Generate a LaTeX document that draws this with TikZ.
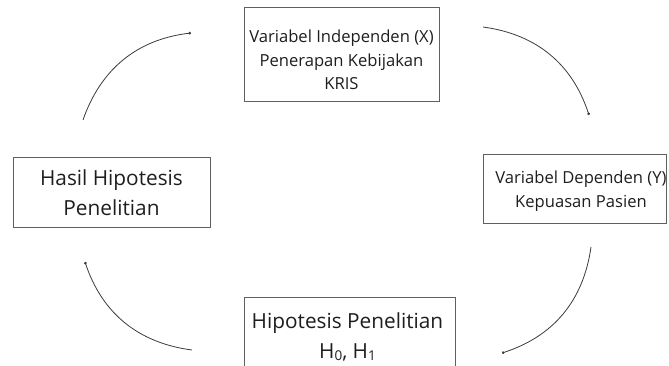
\documentclass[tikz,border=0pt]{standalone}
\usepackage{fontspec}
\setmainfont{Open Sans}
\usetikzlibrary{arrows.meta}
\definecolor{boxline}{HTML}{606060}
\definecolor{txtcol}{HTML}{1E1E1E}
\definecolor{arccol}{HTML}{3A3A3A}
\tikzset{
  boxnode/.style={draw=boxline, line width=0.9pt, inner sep=0pt},
  smalltxt/.style={text=txtcol, align=center, inner sep=0pt, font=\fontsize{16.6}{23.5}\selectfont},
  bigtxt/.style={text=txtcol, align=center, inner sep=0pt, font=\fontsize{20.8}{29.5}\selectfont},
  arcline/.style={draw=arccol, line width=0.8pt, -{Circle[length=2.6pt]}}
}
\newcommand{\subsc}[1]{\raisebox{-2.5pt}{\fontsize{13.5}{13.5}\selectfont #1}}
\begin{document}
\begin{tikzpicture}[x=1pt,y=1pt]
\useasboundingbox (0,0) rectangle (669,365);
\clip (0,0) rectangle (669,365);
% boxes
\node[boxnode, minimum width=195pt, minimum height=94pt] (xbox) at (341.5,311) {};
\node[smalltxt] (xtxt) at (341.5,305) {Variabel Independen (X)\\Penerapan Kebijakan\\KRIS};
\node[boxnode, minimum width=183pt, minimum height=69pt] (ybox) at (574.5,176.5) {};
\node[smalltxt] (ytxt) at (581,174) {Variabel Dependen (Y)\\Kepuasan Pasien};
\node[boxnode, minimum width=197pt, minimum height=70pt] (hbox) at (111.5,173) {};
\node[bigtxt] (htxt) at (111.5,172.5) {Hasil Hipotesis\\Penelitian};
\node[boxnode, minimum width=211pt, minimum height=80pt] (pbox) at (349.5,28) {};
\node[bigtxt] (ptxt) at (347.5,28) {Hipotesis Penelitian\\H\subsc{0}, H\subsc{1}};
% arc endpoints
\coordinate (a1) at (83,245);  \coordinate (b1) at (191,332);
\coordinate (a2) at (483,338); \coordinate (b2) at (589,250);
\coordinate (a3) at (591,118); \coordinate (b3) at (502,12);
\coordinate (a4) at (192,15);  \coordinate (b4) at (85,103);
\draw[arcline] (a1) to[bend left=32] (b1);
\draw[arcline] (a2) to[bend left=32] (b2);
\draw[arcline] (a3) to[bend left=32] (b3);
\draw[arcline] (a4) to[bend left=32] (b4);
\end{tikzpicture}
\end{document}
